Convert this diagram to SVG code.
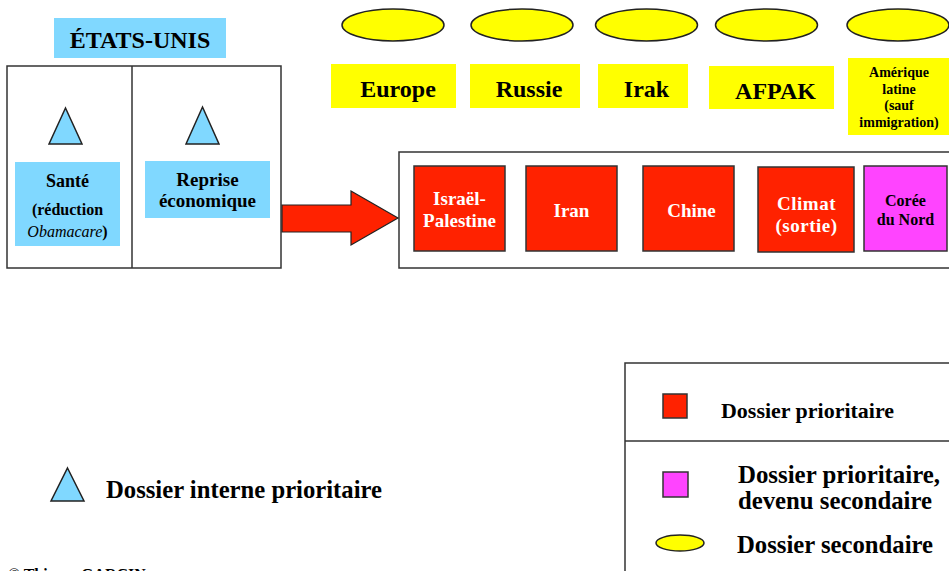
<svg xmlns="http://www.w3.org/2000/svg" width="949" height="571" viewBox="0 0 949 571">
<style>
text{font-family:"Liberation Serif","Times New Roman",serif;font-weight:bold;fill:#000;text-anchor:middle}
text.s{text-anchor:start}
.blue{fill:#80d8ff}
.frame{fill:#fff;stroke:#333;stroke-width:1.5}
.tri{fill:#80d8ff;stroke:#222;stroke-width:1.5}
.ell{fill:#ffff00;stroke:#222;stroke-width:1.5}
.yel{fill:#ffff00}
.red{fill:#ff2200;stroke:#333;stroke-width:1.5}
.pink{fill:#ff44ff;stroke:#333;stroke-width:1.5}
.w{fill:#fff;font-size:19px}
.big{font-size:24px}
</style>
<rect width="949" height="571" fill="#fff"/>

<g id="etats-unis-label">
<rect class="blue" x="54" y="18" width="172" height="40"/>
<text class="big" x="140" y="48" font-size="24.5">ÉTATS-UNIS</text>
</g>

<g id="etats-unis">
<rect class="frame" x="7" y="66" width="274" height="202"/>
<line x1="132" y1="66" x2="132" y2="268" stroke="#333" stroke-width="1.5"/>
</g>

<g id="sante">
<polygon class="tri" points="65.5,108 82,144 49,144"/>
<rect class="blue" x="15" y="162" width="105" height="84"/>
<text x="67.5" y="187" font-size="18">Santé</text>
<text x="67.5" y="215" font-size="16">(réduction</text>
<text x="67.5" y="237" font-size="16"><tspan font-style="italic" font-weight="normal">Obamacare</tspan>)</text>
</g>

<g id="reprise">
<polygon class="tri" points="202.5,107 219,144 186,144"/>
<rect class="blue" x="145" y="161" width="125" height="57"/>
<text x="207.5" y="186" font-size="19">Reprise</text>
<text x="207.5" y="207" font-size="19">économique</text>
</g>

<g id="ellipses">
<ellipse class="ell" cx="393" cy="25" rx="51" ry="16"/>
<ellipse class="ell" cx="522" cy="25" rx="51" ry="16"/>
<ellipse class="ell" cx="646.5" cy="25" rx="51" ry="16"/>
<ellipse class="ell" cx="766.5" cy="25" rx="51" ry="16"/>
<ellipse class="ell" cx="898" cy="25" rx="51" ry="16"/>
</g>

<g id="europe">
<rect class="yel" x="331" y="64" width="125" height="44"/>
<text class="big" x="398" y="97">Europe</text>
</g>
<g id="russie">
<rect class="yel" x="470" y="64" width="110" height="44"/>
<text class="big" x="529" y="97">Russie</text>
</g>
<g id="irak">
<rect class="yel" x="598" y="64" width="90" height="44"/>
<text class="big" x="646.5" y="97">Irak</text>
</g>
<g id="afpak">
<rect class="yel" x="709" y="66" width="125" height="43"/>
<text class="big" x="775.5" y="99">AFPAK</text>
</g>
<g id="amerique">
<rect class="yel" x="848" y="58" width="101" height="77"/>
<text x="899" y="77" font-size="14">Amérique</text>
<text x="899" y="94" font-size="14" font-weight="normal">latine</text>
<text x="899" y="110" font-size="14">(sauf</text>
<text x="899" y="127" font-size="14">immigration)</text>
</g>

<g id="priorites">
<rect class="frame" x="399" y="152" width="560" height="116"/>
</g>
<g id="israel">
<rect class="red" x="414" y="166" width="91" height="85"/>
<text class="w" x="459.5" y="205">Israël-</text>
<text class="w" x="459.5" y="227">Palestine</text>
</g>
<g id="iran">
<rect class="red" x="526" y="166" width="91" height="85"/>
<text class="w" x="571.5" y="217">Iran</text>
</g>
<g id="chine">
<rect class="red" x="643" y="166" width="91" height="85"/>
<text class="w" x="691.5" y="217">Chine</text>
</g>
<g id="climat">
<rect class="red" x="758" y="167" width="96" height="85"/>
<text class="w" x="806.5" y="210" letter-spacing="0.5">Climat</text>
<text class="w" x="806.5" y="232" letter-spacing="0.5">(sortie)</text>
</g>
<g id="coree">
<rect class="pink" x="864" y="166" width="83" height="85"/>
<text x="905.5" y="206" font-size="16">Corée</text>
<text x="905.5" y="225" font-size="16">du Nord</text>
</g>

<g id="connectors">
<polygon points="282,205 351,205 351,191 398,218 351,245 351,232 282,232" fill="#ff2200" stroke="#222" stroke-width="1.2"/>
</g>

<g id="legend-interne">
<polygon class="tri" points="67.5,468 84,501 51,501"/>
<text class="s" x="106" y="498" font-size="25" textLength="276" lengthAdjust="spacingAndGlyphs">Dossier interne prioritaire</text>
</g>

<g id="legend">
<rect class="frame" x="625" y="363" width="340" height="220"/>
<line x1="625" y1="441" x2="949" y2="441" stroke="#333" stroke-width="1.5"/>
<rect class="red" x="663" y="394" width="24" height="24"/>
<text class="s" x="721" y="418" font-size="21" textLength="173" lengthAdjust="spacingAndGlyphs">Dossier prioritaire</text>
<rect class="pink" x="663" y="472" width="25" height="25"/>
<text class="s" x="738" y="483" font-size="25" textLength="202" lengthAdjust="spacingAndGlyphs">Dossier prioritaire,</text>
<text class="s" x="738" y="509" font-size="25" textLength="194" lengthAdjust="spacingAndGlyphs">devenu secondaire</text>
<ellipse class="ell" cx="680" cy="543" rx="24" ry="8"/>
<text class="s" x="737" y="553" font-size="25" textLength="196" lengthAdjust="spacingAndGlyphs">Dossier secondaire</text>
</g>

<text class="s" x="8" y="580" font-size="16" font-weight="normal">© Thierry GARCIN</text>
</svg>
